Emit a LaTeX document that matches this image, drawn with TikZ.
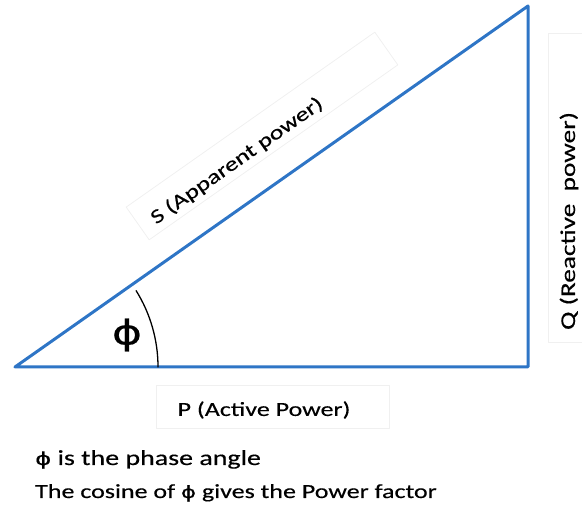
\documentclass[tikz,border=0pt]{standalone}
\usepackage{fontspec}
\setmainfont{Carlito}
\newfontfamily\widefont[FakeStretch=1.3,FakeBold=0.4]{Carlito}
\newfontfamily\phifont[FakeStretch=1.35,FakeBold=0.6]{DejaVu Sans}
\definecolor{sideblue}{RGB}{46,117,198}
\begin{document}
\begin{tikzpicture}[x=1pt,y=1pt,line cap=round,line join=round,
  side/.style={draw=sideblue,line width=3pt},
  labelbox/.style={draw=black!6,line width=.8pt,inner sep=0pt},
  label/.style={font=\widefont\fontsize{20}{24}\selectfont,inner sep=0pt}]
  \useasboundingbox (0,0) rectangle (582,506);
  % the three corners of the power triangle
  \coordinate (A) at (15,139);
  \coordinate (B) at (528,139);
  \coordinate (C) at (528,500);
  \coordinate (arcstart) at (158,139);
  \node[labelbox,rotate=35.13,minimum width=304,minimum height=40] (sbox) at (262,370) {};
  \node[labelbox,rotate=90,minimum width=309,minimum height=42] (qbox) at (569,318) {};
  \node[labelbox,minimum width=233,minimum height=43] (pbox) at (273,99) {};
  \draw[side] (A) -- (B) -- (C) -- cycle;
  \draw[line width=1.3pt] (arcstart) arc[start angle=0,end angle=32,radius=144];
  \node[font=\phifont\fontsize{34}{40}\selectfont] (phi) at (127,171) {ϕ};
  \node[label,rotate=35.13] (apparent) at (237,345) {S (Apparent power)};
  \node[label,rotate=90,font=\widefont\fontsize{21}{24}\selectfont] (reactive) at (569,285) {Q (Reactive\ \ power)};
  \node[label] (active) at (264,96) {P (Active Power)};
  \node[anchor=base west,inner sep=0pt,font=\widefont\fontsize{21.5}{24}\selectfont] (note1) at (35,41) {{\phifont\fontsize{18}{22}\selectfont ϕ} is the phase angle};
  \node[anchor=base west,inner sep=0pt,font=\widefont\fontsize{20}{22}\selectfont] (note2) at (35,8) {The cosine of {\phifont\fontsize{17}{22}\selectfont ϕ} gives the Power factor};
\end{tikzpicture}
\end{document}
